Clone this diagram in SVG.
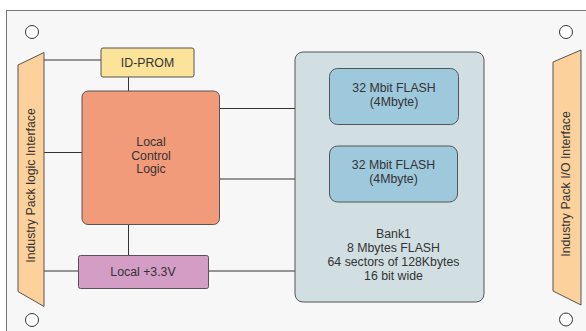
<svg xmlns="http://www.w3.org/2000/svg" width="586" height="331" viewBox="0 0 586 331">
<style>
text{font-family:"Liberation Sans",Arial,sans-serif;font-size:12.3px;fill:#333;text-anchor:middle}
.ln{stroke:#333;stroke-width:1;fill:none}
.hole{fill:#fff;stroke:#333;stroke-width:1}
.box{stroke:#555;stroke-width:1}
</style>
<rect x="6.5" y="10.5" width="600" height="340" fill="#f8f7f8" stroke="#777" stroke-width="1"/>
<circle class="hole" cx="32" cy="32" r="6.5"/>
<circle class="hole" cx="566" cy="32" r="6.5"/>
<circle class="hole" cx="32" cy="320" r="6.5"/>
<circle class="hole" cx="566" cy="319.5" r="6.5"/>
<g id="connectors">
<line class="ln" x1="44" y1="60" x2="101" y2="60"/>
<line class="ln" x1="128.5" y1="77" x2="128.5" y2="91"/>
<line class="ln" x1="44" y1="152.5" x2="82" y2="152.5"/>
<line class="ln" x1="219" y1="108.5" x2="330" y2="108.5"/>
<line class="ln" x1="219" y1="179" x2="330" y2="179"/>
<line class="ln" x1="128.5" y1="224" x2="128.5" y2="255"/>
<line class="ln" x1="44" y1="271" x2="78" y2="271"/>
<line class="ln" x1="209" y1="271" x2="295" y2="271"/>
</g>
<g id="ip-logic">
<polygon points="18,65 44,52.5 44,306.5 18,291.5" fill="#fdd19c" stroke="#555" stroke-width="1"/>
<text transform="translate(34.5,185.5) rotate(-90)">Industry Pack logic Interface</text>
</g>
<g id="ip-io">
<polygon points="553,62 581,50 581,305 553,291" fill="#fdd19c" stroke="#555" stroke-width="1"/>
<text transform="translate(569.5,184) rotate(-90)">Industry Pack I/O Interface</text>
</g>
<g id="id-prom">
<rect class="box" x="101" y="48" width="93" height="29" rx="2" fill="#fbe39a"/>
<text x="147.5" y="67">ID-PROM</text>
</g>
<g id="local-control-logic">
<rect class="box" x="82" y="91" width="137.5" height="133.5" rx="6" fill="#f29b7a"/>
<text x="151" y="146">Local</text>
<text x="151" y="160">Control</text>
<text x="151" y="173">Logic</text>
</g>
<g id="local-33v">
<rect class="box" x="78.5" y="255.5" width="130" height="33" rx="2" fill="#d49dc5"/>
<text x="143" y="276">Local +3.3V</text>
</g>
<g id="bank1">
<rect class="box" x="295" y="52" width="189" height="250" rx="8" fill="#d1dfe3"/>
<text x="393.5" y="238">Bank1</text>
<text x="393.5" y="252">8 Mbytes FLASH</text>
<text x="393.5" y="265.5">64 sectors of 128Kbytes</text>
<text x="393.5" y="279.5">16 bit wide</text>
</g>
<g id="flash1">
<rect class="box" x="329.5" y="68.5" width="129" height="56" rx="8" fill="#9ec8dc"/>
<text x="394" y="92">32 Mbit FLASH</text>
<text x="394" y="106">(4Mbyte)</text>
</g>
<g id="flash2">
<rect class="box" x="329.5" y="146" width="128" height="56" rx="8" fill="#9ec8dc"/>
<text x="393.5" y="169">32 Mbit FLASH</text>
<text x="393.5" y="183">(4Mbyte)</text>
</g>
</svg>
